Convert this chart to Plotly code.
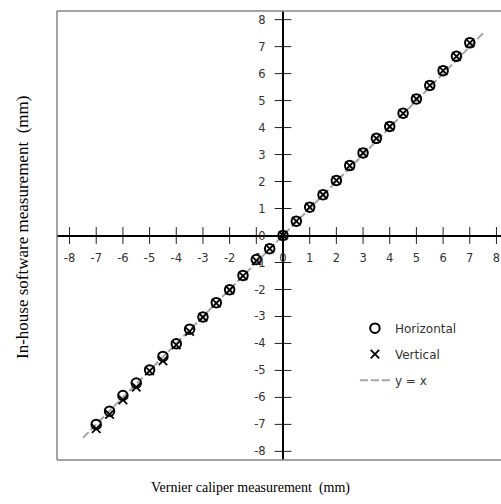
import plotly.graph_objects as go

# ---- data ----
x_pos = [0, 0.5, 1, 1.5, 2, 2.5, 3, 3.5, 4, 4.5, 5, 5.5, 6, 6.5, 7]
x_neg = [-0.5, -1, -1.5, -2, -2.5, -3, -3.5, -4, -4.5, -5, -5.5, -6, -6.5, -7]

horiz_pos = [0, 0.53, 1.05, 1.51, 2.04, 2.59, 3.06, 3.60, 4.04, 4.53, 5.06, 5.56, 6.11, 6.64, 7.14]
horiz_neg = [-0.49, -0.89, -1.48, -2.01, -2.49, -3.02, -3.47, -4.01, -4.48, -4.98, -5.47, -5.93, -6.51, -7.00]
vert_pos = [0, 0.53, 1.05, 1.51, 2.04, 2.59, 3.06, 3.60, 4.04, 4.53, 5.06, 5.56, 6.11, 6.64, 7.14]
vert_neg = [-0.49, -0.93, -1.50, -2.02, -2.51, -3.03, -3.55, -4.05, -4.65, -5.02, -5.62, -6.09, -6.63, -7.16]

ref_x = [-7.5, 7.5]
ref_y = [-7.5, 7.5]

tick_vals = [-8, -7, -6, -5, -4, -3, -2, -1, 0, 1, 2, 3, 4, 5, 6, 7, 8]
tick_text = [str(v) for v in tick_vals]

x_title = "Vernier caliper measurement  (mm)"
y_title = "In-house software measurement  (mm)"

# ---- layout geometry ----
X_RANGE = [-8.47, 8.17]
Y_RANGE = [-8.32, 8.32]
x_zero_pos = (0 - Y_RANGE[0]) / (Y_RANGE[1] - Y_RANGE[0])
y_zero_pos = (0 - X_RANGE[0]) / (X_RANGE[1] - X_RANGE[0])

fig = go.Figure()

# cross tick marks at the axes
fig.add_trace(go.Scatter(
    x=tick_vals, y=[0] * len(tick_vals), mode="markers",
    marker=dict(symbol="line-ns", size=12, line=dict(width=1, color="#222")),
    showlegend=False, hoverinfo="skip"))
fig.add_trace(go.Scatter(
    x=[0] * len(tick_vals), y=tick_vals, mode="markers",
    marker=dict(symbol="line-ew", size=12, line=dict(width=1, color="#222")),
    showlegend=False, hoverinfo="skip"))

fig.add_trace(go.Scatter(
    x=ref_x, y=ref_y, mode="lines", name="y = x",
    line=dict(color="#a6a6a6", width=2, dash="8px,3px"),
    legendgroup="c", legendrank=3))

fig.add_trace(go.Scatter(
    x=x_neg + x_pos, y=horiz_neg + horiz_pos, mode="markers", name="Horizontal",
    marker=dict(symbol="circle-open", size=9.5, color="black", line=dict(width=2)),
    legendgroup="a", legendrank=1))

fig.add_trace(go.Scatter(
    x=x_neg + x_pos, y=vert_neg + vert_pos, mode="markers", name="Vertical",
    marker=dict(symbol="x-thin-open", size=8.5, color="black", line=dict(width=1.8, color="black")),
    legendgroup="b", legendrank=2))

tick_font = dict(family="DejaVu Sans", size=11.5, color="#333")

fig.update_layout(
    width=501, height=504,
    margin=dict(l=57, r=0, t=11, b=44),
    paper_bgcolor="white", plot_bgcolor="white",
    xaxis=dict(range=X_RANGE, anchor="free", position=x_zero_pos,
               showline=True, linecolor="black", linewidth=2,
               showgrid=False, zeroline=False, ticks="",
               tickvals=tick_vals, ticktext=tick_text, tickfont=tick_font,
               ticklabelstandoff=12),
    yaxis=dict(range=Y_RANGE, anchor="free", position=y_zero_pos,
               showline=True, linecolor="black", linewidth=2,
               showgrid=False, zeroline=False, ticks="",
               tickvals=tick_vals, ticktext=tick_text, tickfont=tick_font,
               ticklabelstandoff=14),
    legend=dict(x=0.671, y=0.326, xanchor="left", yanchor="top",
                font=dict(family="DejaVu Sans", size=12, color="#333"),
                bgcolor="rgba(0,0,0,0)", traceorder="grouped", tracegroupgap=7),
    showlegend=True,
    shapes=[
        dict(type="line", xref="paper", yref="paper", x0=0, x1=0, y0=0, y1=1,
             line=dict(color="#868686", width=1.5)),
        dict(type="line", xref="paper", yref="paper", x0=0, x1=1.05, y0=1, y1=1,
             line=dict(color="#868686", width=1.5)),
        dict(type="line", xref="paper", yref="paper", x0=0, x1=1.05, y0=0, y1=0,
             line=dict(color="#868686", width=1.5)),
    ],
    annotations=[
        dict(text=x_title, xref="paper", yref="paper", x=(250 - 57) / 444, y=(460 - 488) / 449,
             xanchor="center", yanchor="middle", showarrow=False,
             font=dict(family="Liberation Serif", size=14, color="black")),
        dict(text=y_title, xref="paper", yref="paper", x=(23 - 57) / 444, y=(460 - 228) / 449,
             xanchor="center", yanchor="middle", showarrow=False, textangle=-90,
             font=dict(family="Liberation Serif", size=17, color="black")),
    ],
)

fig.write_html("out.html")
